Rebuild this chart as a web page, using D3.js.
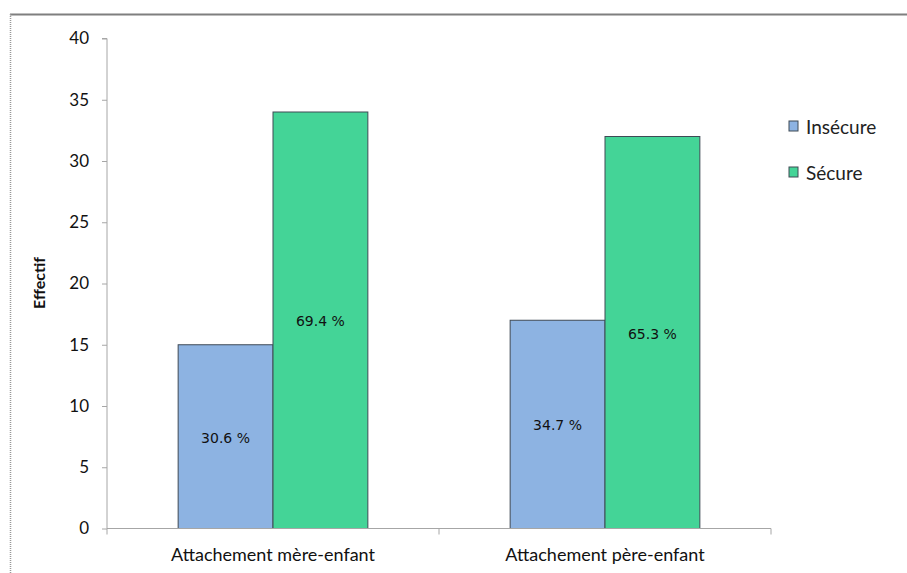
<!DOCTYPE html>
<html><head><meta charset="utf-8">
<script src="https://cdn.jsdelivr.net/npm/d3@7"></script>
<style>
body{margin:0;background:#fff;}
svg{display:block;font-family:Lato,"Open Sans",sans-serif;}
</style></head>
<body>
<svg id="chart" width="907" height="573"></svg>
<script>
const categories = ["Attachement mère-enfant", "Attachement père-enfant"];
const seriesNames = ["Insécure", "Sécure"];
const insecureValues = [15, 17];
const secureValues = [34, 32];
const insecureLabels = ["30.6 %", "34.7 %"];
const secureLabels = ["69.4 %", "65.3 %"];
const yTicks = [0, 5, 10, 15, 20, 25, 30, 35, 40];
const colors = ["#8DB3E2", "#44D497"];

(function(){
const svg = d3.select("#chart");
// outer frame
svg.append("line").attr("x1",10).attr("x2",907).attr("y1",14.5).attr("y2",14.5).attr("stroke","#7f7f7f").attr("stroke-width",2);
svg.append("line").attr("x1",10.5).attr("x2",10.5).attr("y1",14).attr("y2",573).attr("stroke","#999").attr("stroke-width",1.5).attr("stroke-dasharray","1,1");

const pL = 107, pR = 771, pT = 38.5, pB = 528.5;
const x0 = d3.scaleBand().domain(categories).range([pL, pR]).paddingInner(0).paddingOuter(0);
const x1 = d3.scaleBand().domain(seriesNames).range([0, x0.bandwidth()]).paddingInner(0).paddingOuter(0.75);
const y = d3.scaleLinear().domain([0, 40]).range([pB, pT]);

const data = categories.map((c, i) => ({
  cat: c,
  vals: [
    {s: seriesNames[0], v: insecureValues[i], lab: insecureLabels[i], col: colors[0]},
    {s: seriesNames[1], v: secureValues[i], lab: secureLabels[i], col: colors[1]}
  ]
}));

// bars
const g = svg.append("g");
data.forEach(d => {
  d.vals.forEach(b => {
    const bx = x0(d.cat) + x1(b.s);
    g.append("rect").attr("x", bx).attr("y", y(b.v)).attr("width", x1.bandwidth()).attr("height", y(0) - y(b.v))
      .attr("fill", b.col).attr("stroke", "#3f4a55").attr("stroke-width", 1);
    g.append("text").attr("x", bx + x1.bandwidth()/2).attr("y", (y(b.v) + y(0))/2 + 1)
      .attr("text-anchor","middle").attr("dominant-baseline","central")
      .attr("font-family","'DejaVu Sans',sans-serif").attr("font-size",14).attr("fill","#111")
      .text(b.lab);
  });
});

// y axis
const yAxis = d3.axisLeft(y).tickValues(yTicks).tickSize(5).tickPadding(13);
const ya = svg.append("g").attr("transform",`translate(${pL},0)`).call(yAxis);
ya.select(".domain").attr("stroke","#a6a6a6").attr("d",`M-5,${pT}H0V${pB}`);
ya.selectAll(".tick line").attr("stroke","#a6a6a6");
ya.selectAll("text").attr("font-size",17).attr("fill","#111").attr("font-family","Lato,'Open Sans',sans-serif");

// x axis
const xa = svg.append("g").attr("transform",`translate(0,${pB})`);
xa.append("line").attr("x1",pL).attr("x2",pR).attr("y1",0).attr("y2",0).attr("stroke","#a6a6a6");
const xTickPos = [pL, x0(categories[1]), pR];
xa.selectAll("line.t").data(xTickPos).enter().append("line").attr("class","t")
  .attr("x1",d=>d).attr("x2",d=>d).attr("y1",0).attr("y2",6).attr("stroke","#a6a6a6");
xa.selectAll("text").data(categories).enter().append("text")
  .attr("x", d => x0(d) + x0.bandwidth()/2).attr("y", 32)
  .attr("text-anchor","middle").attr("font-size",18).attr("fill","#111").text(d=>d);

// y label
svg.append("text").attr("transform","translate(45,283) rotate(-90)").attr("text-anchor","middle")
  .attr("font-size",16).attr("font-weight","bold").attr("fill","#111").text("Effectif");

// legend
const lg = svg.append("g");
seriesNames.forEach((s, i) => {
  const ly = 126 + i*46;
  lg.append("rect").attr("x",789).attr("y",ly-5).attr("width",9).attr("height",10)
    .attr("fill",colors[i]).attr("stroke","#3f4a55").attr("stroke-width",1);
  lg.append("text").attr("x",806).attr("y",ly).attr("dominant-baseline","central")
    .attr("font-size",19).attr("fill","#222").text(s);
});
})();
</script>
</body></html>
